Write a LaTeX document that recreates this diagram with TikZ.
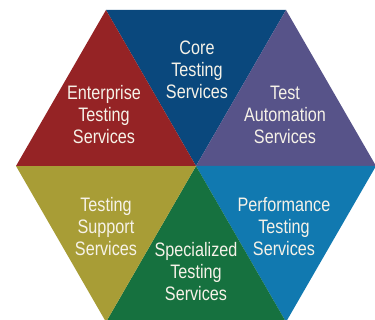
\documentclass[tikz,border=0pt]{standalone}
\usepackage{fontspec}
\setmainfont{Liberation Sans}[FakeStretch=0.83]
\usepackage{xcolor}
\definecolor{coreblue}{RGB}{10,72,125}
\definecolor{entred}{RGB}{149,35,37}
\definecolor{autopurple}{RGB}{87,83,137}
\definecolor{suppolive}{RGB}{168,157,54}
\definecolor{specgreen}{RGB}{22,113,63}
\definecolor{perfblue}{RGB}{17,121,176}
\definecolor{lblwhite}{RGB}{246,242,232}

\begin{document}
\begin{tikzpicture}[x=1pt,y=-1pt]
				\tikzset{lbl/.style={text=lblwhite, align=center, inner sep=0pt, font=\fontsize{19.5}{22}\selectfont}}
				\useasboundingbox (0,0) rectangle (375,320);
				% hexagon corners
				\coordinate (O) at (196,166);
				\coordinate (TL) at (106,10);
				\coordinate (TR) at (286,10);
				\coordinate (R) at (376,166);
				\coordinate (BR) at (286,322);
				\coordinate (BL) at (106,322);
				\coordinate (L) at (16,166);
				\fill[coreblue] (O) -- (TL) -- (TR) -- cycle;
				\fill[autopurple] (O) -- (TR) -- (R) -- cycle;
				\fill[perfblue] (O) -- (R) -- (BR) -- cycle;
				\fill[specgreen] (O) -- (BR) -- (BL) -- cycle;
				\fill[suppolive] (O) -- (BL) -- (L) -- cycle;
				\fill[entred] (O) -- (L) -- (TL) -- cycle;
				% labels
				\node[lbl] (core) at (197,70){Core\\Testing\\Services};
				\node[lbl] (ent) at (104,115){Enterprise\\Testing\\Services};
				\node[lbl] (auto) at (285,115){Test\\Automation\\Services};
				\node[lbl] (supp) at (106,227){Testing\\Support\\Services};
				\node[lbl] (spec) at (196,272){Specialized\\Testing\\Services};
				\node[lbl] (perf) at (284,227){Performance\\Testing\\Services};
			\end{tikzpicture}
\end{document}
